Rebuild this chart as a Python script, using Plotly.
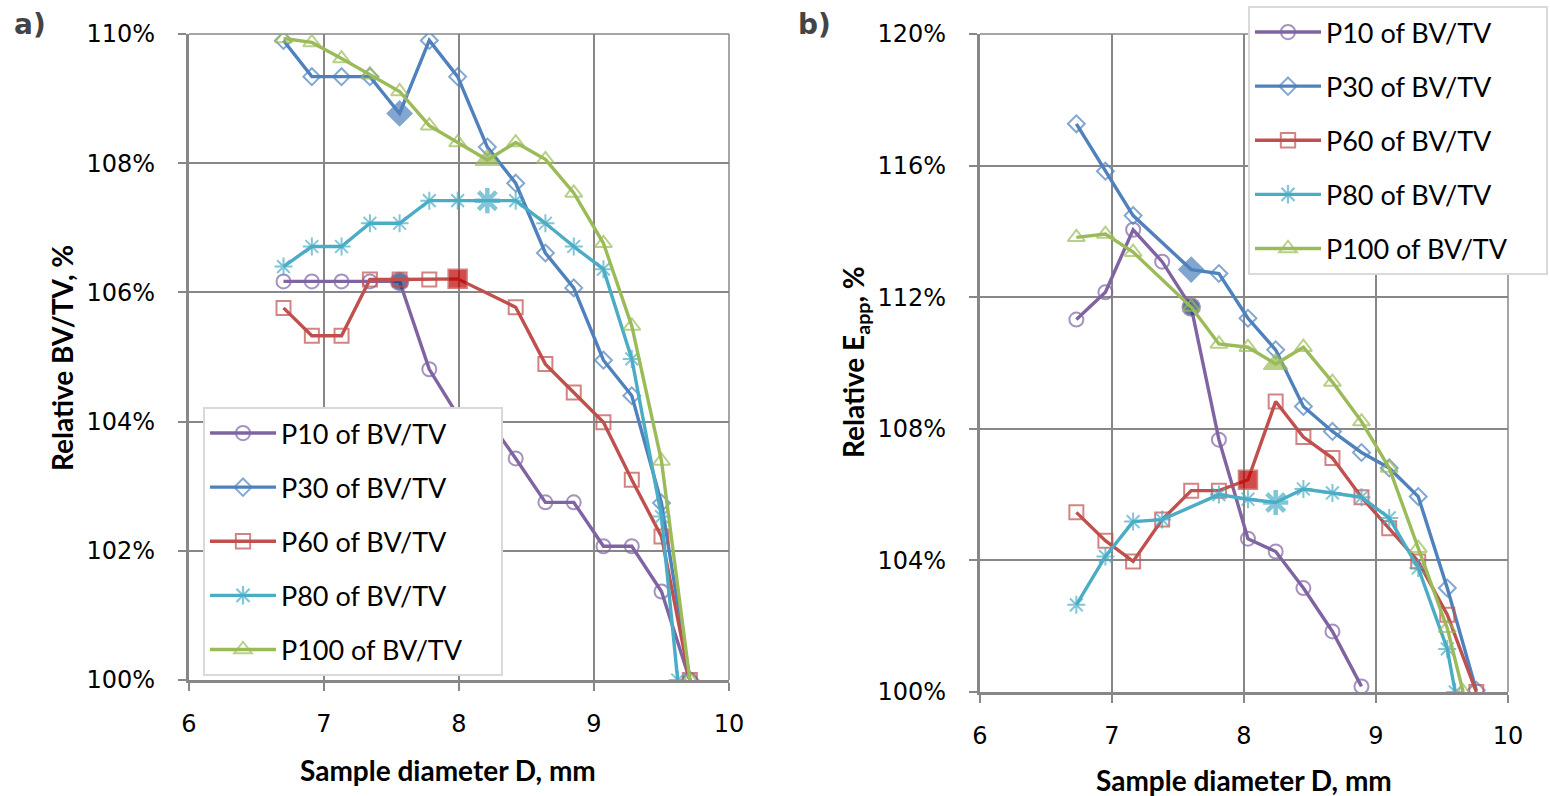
import plotly.graph_objects as go

# ---------------- data ----------------
NAMES = ["P10 of BV/TV", "P30 of BV/TV", "P60 of BV/TV", "P80 of BV/TV", "P100 of BV/TV"]

# Panel a) relative BV/TV (%)
A_X = [6.70, 6.91, 7.13, 7.34, 7.56, 7.78, 7.99, 8.21, 8.42, 8.64, 8.85, 9.07, 9.28, 9.50, 9.71]
A_X_P80 = [6.70, 6.91, 7.13, 7.34, 7.56, 7.78, 7.99, 8.21, 8.42, 8.64, 8.85, 9.07, 9.28, 9.50, 9.62]
A_P10 = [106.17, 106.17, 106.17, 106.17, 106.17, 104.81, 104.10, 104.05, 103.43, 102.75, 102.75, 102.07, 102.07, 101.37, 100.0]
A_P30 = [109.90, 109.34, 109.34, 109.34, 108.77, 109.90, 109.34, 108.25, 107.69, 106.61, 106.07, 104.95, 104.40, 102.74, 100.0]
A_P60 = [105.76, 105.33, 105.33, 106.20, 106.20, 106.20, 106.21, None, 105.77, 104.89, 104.45, 103.99, 103.10, 102.22, 100.0]
A_P80 = [106.40, 106.71, 106.71, 107.07, 107.07, 107.42, 107.42, 107.42, 107.42, 107.07, 106.71, 106.36, 104.97, 102.53, 100.0]
A_P100 = [109.93, 109.87, 109.62, 109.37, 109.11, 108.58, 108.32, 108.05, 108.32, 108.06, 107.54, 106.76, 105.48, 103.39, 100.0]
A_HIGHLIGHT = [4, 4, 6, 7, 7]

# Panel b) relative E_app (%)
B_X = [6.73, 6.95, 7.16, 7.38, 7.60, 7.81, 8.03, 8.24, 8.45, 8.67, 8.89, 9.10, 9.32, 9.54, 9.76]
B_X_P80 = [6.73, 6.95, 7.16, 7.38, 7.60, 7.81, 8.03, 8.24, 8.45, 8.67, 8.89, 9.10, 9.32, 9.54, 9.60]
B_X_P100 = [6.73, 6.95, 7.16, 7.38, 7.60, 7.81, 8.03, 8.24, 8.45, 8.67, 8.89, 9.10, 9.32, 9.54, 9.66]
B_P10 = [111.32, 112.15, 114.05, 113.08, 111.70, 107.67, 104.66, 104.27, 103.16, 101.84, 100.17, None, None, None, None]
B_P30 = [117.27, 115.83, 114.48, None, 112.84, 112.72, 111.36, 110.40, 108.68, 107.92, 107.28, 106.81, 105.94, 103.16, 100.05]
B_P60 = [105.46, 104.60, 103.97, 105.24, 106.12, 106.12, 106.45, 108.83, 107.75, 107.11, 105.92, 104.98, 103.97, 102.35, 100.0]
B_P80 = [102.65, 104.12, 105.18, 105.24, None, 106.00, 105.86, 105.76, 106.17, 106.05, 105.92, 105.29, 103.77, 101.31, 100.0]
B_P100 = [113.82, 113.92, 113.37, None, 111.70, 110.58, 110.48, 109.97, 110.48, 109.42, 108.22, 106.81, 104.37, 101.94, 100.0]
B_HIGHLIGHT = [4, 4, 6, 7, 7]

X_TICKS = [6, 7, 8, 9, 10]
A_YTICKS = [100, 102, 104, 106, 108, 110]
A_YTICKTEXT = ["100%", "102%", "104%", "106%", "108%", "110%"]
B_YTICKS = [100, 104, 108, 112, 116, 120]
B_YTICKTEXT = ["100%", "104%", "108%", "112%", "116%", "120%"]

# ---------------- styles ----------------
COLORS = ["#8064A2", "#4F81BD", "#C0504D", "#4BACC6", "#9BBB59"]
HL_FILL = ["#1F3F74", "#4F81BD", "#C00000", "#4BACC6", "#9BBB59"]
SYMBOLS = ["circle-open", "diamond-open", "square-open", "asterisk-open", "triangle-up-open"]
HL_SYMBOLS = ["circle", "diamond", "square", "asterisk-open", "triangle-up"]
SIZES = [14, 13, 14, 15, 15]
HL_SIZES = [18, 19, 19, 21, 21]
GRID = "#878787"
TICKFONT = dict(family="DejaVu Sans", size=24, color="#000000")
TITLEFONT = dict(family="Lato", size=28, color="#000000")
LEGEND_PAD = "&nbsp;" * 5  # right padding inside the legend box

fig = go.Figure()


def add_series(xs_list, ys_list, hl, xaxis, yaxis, legend):
    for i, (xs, ys) in enumerate(zip(xs_list, ys_list)):
        n = len(ys)
        sym = [HL_SYMBOLS[i] if k == hl[i] else SYMBOLS[i] for k in range(n)]
        col = [HL_FILL[i] if k == hl[i] else COLORS[i] for k in range(n)]
        siz = [HL_SIZES[i] if k == hl[i] else SIZES[i] for k in range(n)]
        lw = [(4.5 if i == 3 else 1.5) if k == hl[i] else 2 for k in range(n)]
        fig.add_trace(go.Scatter(
            x=xs, y=ys, name=NAMES[i] + LEGEND_PAD, mode="lines+markers",
            connectgaps=True, xaxis=xaxis, yaxis=yaxis, legend=legend,
            legendgroup=legend + NAMES[i],
            line=dict(color=COLORS[i], width=3.4),
            marker=dict(symbol=sym, color=col, size=siz,
                        line=dict(color=COLORS[i], width=lw)),
            hoverinfo="skip",
        ))


add_series([A_X, A_X, A_X, A_X_P80, A_X],
           [A_P10, A_P30, A_P60, A_P80, A_P100], A_HIGHLIGHT, "x", "y", "legend")
add_series([B_X, B_X, B_X, B_X_P80, B_X_P100],
           [B_P10, B_P30, B_P60, B_P80, B_P100], B_HIGHLIGHT, "x2", "y2", "legend2")

W, H = 1550, 796
A_DOM_X = [189 / W, 729 / W]
A_DOM_Y = [1 - 680 / H, 1 - 34 / H]
B_DOM_X = [980 / W, 1508 / W]
B_DOM_Y = [1 - 692 / H, 1 - 34 / H]

common_x = dict(range=[6, 10], tickvals=X_TICKS, showgrid=True, gridcolor=GRID, gridwidth=1.5,
                showline=True, linecolor=GRID, linewidth=3, ticks="outside", ticklen=8,
                tickwidth=2, tickcolor=GRID, tickfont=TICKFONT, zeroline=False,
                ticklabelstandoff=12, automargin=False)
common_y = dict(showgrid=True, gridcolor=GRID, gridwidth=1.5, showline=True, linecolor=GRID,
                linewidth=3, ticks="outside", ticklen=8, tickwidth=2, tickcolor=GRID,
                tickfont=TICKFONT, zeroline=False, ticklabelstandoff=18, automargin=False)

legend_common = dict(bgcolor="#FFFFFF", bordercolor="#D9D9D9", borderwidth=2,
                     font=dict(family="Lato", size=27, color="#000000"),
                     xanchor="left", yanchor="top", traceorder="grouped",
                     tracegroupgap=16, itemwidth=66)

fig.update_layout(
    template="none",
    width=W, height=H, margin=dict(l=0, r=0, t=0, b=0, autoexpand=False),
    paper_bgcolor="#FFFFFF", plot_bgcolor="#FFFFFF",
    showlegend=True,
    xaxis=dict(domain=A_DOM_X, anchor="y", **common_x),
    yaxis=dict(domain=A_DOM_Y, anchor="x", range=[100, 110], tickvals=A_YTICKS,
               ticktext=A_YTICKTEXT, **common_y),
    xaxis2=dict(domain=B_DOM_X, anchor="y2", **common_x),
    yaxis2=dict(domain=B_DOM_Y, anchor="x2", range=[100, 120], tickvals=B_YTICKS,
                ticktext=B_YTICKTEXT, **common_y),
    legend=dict(x=203 / W, y=1 - 407 / H, **legend_common),
    legend2=dict(x=1248 / W, y=1 - 6 / H, **legend_common),
)

# top / right borders (gridlines at the range ends)
for xr, yr in (("x", "y"), ("x2", "y2")):
    fig.add_shape(type="line", xref=xr + " domain", yref=yr + " domain", x0=0, x1=1, y0=1, y1=1,
                  line=dict(color=GRID, width=1.5), layer="below")
    fig.add_shape(type="line", xref=xr + " domain", yref=yr + " domain", x0=1, x1=1, y0=0, y1=1,
                  line=dict(color=GRID, width=1.5), layer="below")

ann = [
    dict(text="<b>a)</b>", x=30 / W, y=1 - 25 / H, font=dict(family="DejaVu Sans", size=28)),
    dict(text="<b>b)</b>", x=815 / W, y=1 - 25 / H, font=dict(family="DejaVu Sans", size=28)),
    dict(text="<b>Sample diameter D, mm</b>", x=448 / W, y=1 - 770 / H, font=TITLEFONT),
    dict(text="<b>Sample diameter D, mm</b>", x=1244 / W, y=1 - 780 / H, font=TITLEFONT),
    dict(text="<b>Relative BV/TV, %</b>", x=62 / W, y=1 - 358 / H, font=TITLEFONT, textangle=-90),
    dict(text="<b>Relative E<sub>app</sub>, %</b>", x=855 / W, y=1 - 362 / H, font=TITLEFONT,
         textangle=-90),
]
for a in ann:
    fig.add_annotation(xref="paper", yref="paper", xanchor="center", yanchor="middle",
                       showarrow=False, **a)

fig.write_html("out.html")
